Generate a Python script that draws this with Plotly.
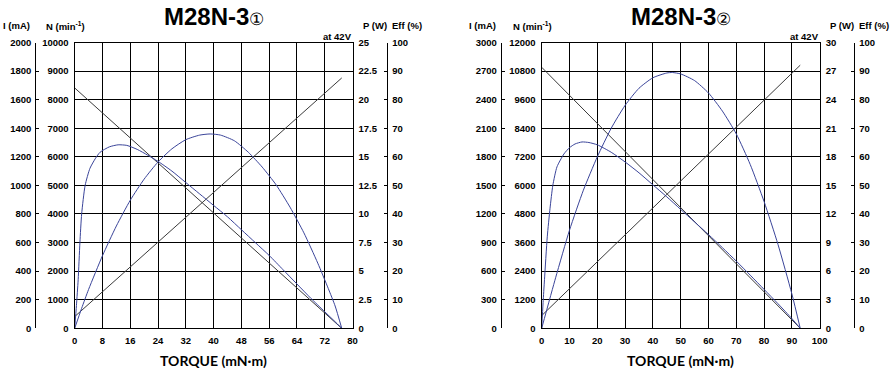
import plotly.graph_objects as go

W, H = 891, 372

# ---------------- data: chart 1 (M28N-3 ①) ----------------
L_TORQUE_LINE = [0, 76.9]
L_SPEED = [8410, 0]
L_CURRENT = [82, 1752]
L_P_TORQUE = [0, 2, 4, 8, 12, 16, 20, 24, 28, 32, 36, 39, 42, 46, 50, 54, 58, 62, 66, 70, 73, 75, 76.9]
L_POWER = [0, 1.75, 3.4, 6.35, 8.95, 11.2, 13.05, 14.55, 15.7, 16.5, 16.9, 17.0, 16.9, 16.4, 15.4, 14.1, 12.55, 10.6, 8.35, 5.7, 3.5, 1.95, 0]
L_E_TORQUE = [0, 0.5, 1, 1.5, 2, 3, 4.4, 6, 7.3, 10, 12.5, 15, 18, 21, 24, 28, 32, 36, 40, 44, 48, 52, 56, 60, 64, 68, 72, 75, 76.9]
L_EFF = [0, 8, 17, 30, 40, 50, 56, 59.5, 61.6, 63.5, 64.2, 64.0, 62.6, 60.6, 58.4, 55, 51, 47, 43, 39, 34.5, 30, 25.5, 20.5, 15.5, 10.5, 5.8, 2.3, 0]

# ---------------- data: chart 2 (M28N-3 ②) ----------------
R_TORQUE_LINE = [0, 93]
R_SPEED = [10960, 0]
R_CURRENT = [133, 2762]
R_P_TORQUE = [0, 5, 10, 15, 20, 25, 30, 35, 40, 45, 47, 50, 55, 60, 65, 70, 75, 80, 85, 90, 93]
R_POWER = [0, 5.3, 10.3, 14.5, 18.0, 21.0, 23.4, 25.2, 26.3, 26.8, 26.85, 26.7, 26.0, 24.7, 22.8, 20.4, 17.2, 13.3, 8.8, 3.6, 0]
R_E_TORQUE = [0, 0.5, 1, 2, 3, 4, 5.5, 8, 10, 12, 14.5, 17, 20, 25, 30, 35, 40, 45, 50, 55, 60, 65, 70, 75, 80, 85, 90, 93]
R_EFF = [0, 9, 17, 32, 42, 50, 56.5, 61, 63.2, 64.5, 65.2, 65, 64.2, 61.6, 58.2, 54.4, 50.2, 46, 41.6, 37.2, 32.8, 28.2, 23.5, 18.6, 13.6, 8.6, 3.4, 0]

# ---------------- tick labels ----------------
L_X_TICKS = [0, 8, 16, 24, 32, 40, 48, 56, 64, 72, 80]
L_I_TICKS = [0, 200, 400, 600, 800, 1000, 1200, 1400, 1600, 1800, 2000]
L_N_TICKS = [0, 1000, 2000, 3000, 4000, 5000, 6000, 7000, 8000, 9000, 10000]
L_P_TICKS = [0, 2.5, 5, 7.5, 10, 12.5, 15, 17.5, 20, 22.5, 25]
R_X_TICKS = [0, 10, 20, 30, 40, 50, 60, 70, 80, 90, 100]
R_I_TICKS = [0, 300, 600, 900, 1200, 1500, 1800, 2100, 2400, 2700, 3000]
R_N_TICKS = [0, 1200, 2400, 3600, 4800, 6000, 7200, 8400, 9600, 10800, 12000]
R_P_TICKS = [0, 3, 6, 9, 12, 15, 18, 21, 24, 27, 30]
EFF_TICKS = [0, 10, 20, 30, 40, 50, 60, 70, 80, 90, 100]

TITLES = ["M28N-3", "M28N-3"]
MARKS = ["①", "②"]

BLUE = "#3a4499"
DARK = "#3a3a3a"
FONT = "Liberation Sans"


def px(x):
    return x / W


def py(y):
    return 1 - y / H


fig = go.Figure()

charts = [
    dict(xd=(74.7, 352.5), iline=35.3, effline=387.3, xa="x", ya=["y", "y2", "y3", "y4"],
         xt=L_X_TICKS, it=L_I_TICKS, nt=L_N_TICKS, pt=L_P_TICKS,
         tl=L_TORQUE_LINE, sp=L_SPEED, cu=L_CURRENT, ptq=L_P_TORQUE, pw=L_POWER,
         etq=L_E_TORQUE, ef=L_EFF),
    dict(xd=(541.7, 819.7), iline=500.7, effline=854.3, xa="x2", ya=["y5", "y6", "y7", "y8"],
         xt=R_X_TICKS, it=R_I_TICKS, nt=R_N_TICKS, pt=R_P_TICKS,
         tl=R_TORQUE_LINE, sp=R_SPEED, cu=R_CURRENT, ptq=R_P_TORQUE, pw=R_POWER,
         etq=R_E_TORQUE, ef=R_EFF),
]

ydom = [py(328.3), py(42.5)]
tickfont = dict(family=FONT, size=9.5, color="black", weight="bold")
annots = []
layout = dict(width=W, height=H, margin=dict(l=0, r=0, t=0, b=0, pad=0, autoexpand=False),
              paper_bgcolor="white", plot_bgcolor="white", showlegend=False)

for k, c in enumerate(charts):
    ny, iy, py_, ey = c["ya"]
    xa = c["xa"]
    xname = "xaxis" if xa == "x" else "xaxis2"
    yn = lambda s: "yaxis" + ("" if s == "y" else s[1:])

    layout[xname] = dict(domain=[px(c["xd"][0]), px(c["xd"][1])], anchor=ny,
                         range=[c["xt"][0], c["xt"][-1]], tickmode="array", tickvals=c["xt"],
                         showgrid=True, gridcolor="black", gridwidth=1.3,
                         showline=True, linecolor="black", linewidth=1.3, mirror=True,
                         zeroline=False, ticks="", tickfont=tickfont, ticklabelstandoff=3,
                         automargin=False)
    layout[yn(ny)] = dict(domain=ydom, anchor=xa, range=[0, c["nt"][-1]],
                          tickmode="array", tickvals=c["nt"], ticktext=[str(v) for v in c["nt"]],
                          showgrid=True, gridcolor="black", gridwidth=1.3,
                          showline=True, linecolor="black", linewidth=1.3, mirror=True,
                          zeroline=False, ticks="", tickfont=tickfont, ticklabelstandoff=3,
                          automargin=False)
    layout[yn(iy)] = dict(overlaying=ny, anchor="free", position=px(c["iline"]), side="left",
                          range=[0, c["it"][-1]], tickmode="array", tickvals=c["it"],
                          ticktext=[str(v) for v in c["it"]],
                          showgrid=False, zeroline=False, showline=True, linecolor="black",
                          linewidth=1, ticks="inside", ticklen=3, tickcolor="black",
                          tickfont=tickfont, ticklabelstandoff=2, automargin=False)
    layout[yn(py_)] = dict(overlaying=ny, anchor=xa, side="right",
                           range=[0, c["pt"][-1]], tickmode="array", tickvals=c["pt"],
                           ticktext=[str(v) for v in c["pt"]],
                           showgrid=False, zeroline=False, showline=False, ticks="",
                           tickfont=tickfont, ticklabelstandoff=5, automargin=False)
    layout[yn(ey)] = dict(overlaying=ny, anchor="free", position=px(c["effline"]), side="right",
                          range=[0, 100], tickmode="array", tickvals=EFF_TICKS,
                          ticktext=[str(v) for v in EFF_TICKS],
                          showgrid=False, zeroline=False, showline=True, linecolor="black",
                          linewidth=1, ticks="inside", ticklen=3, tickcolor="black",
                          tickfont=tickfont, ticklabelstandoff=2, automargin=False)

    # traces
    fig.add_trace(go.Scatter(x=c["tl"], y=c["sp"], xaxis=xa, yaxis=ny, mode="lines",
                             line=dict(color=DARK, width=1), hoverinfo="skip"))
    fig.add_trace(go.Scatter(x=c["tl"], y=c["cu"], xaxis=xa, yaxis=iy, mode="lines",
                             line=dict(color=DARK, width=1), hoverinfo="skip"))
    fig.add_trace(go.Scatter(x=c["ptq"], y=c["pw"], xaxis=xa, yaxis=py_, mode="lines",
                             line=dict(color=BLUE, width=1, shape="spline", smoothing=0.6),
                             hoverinfo="skip"))
    fig.add_trace(go.Scatter(x=c["etq"], y=c["ef"], xaxis=xa, yaxis=ey, mode="lines",
                             line=dict(color=BLUE, width=1, shape="spline", smoothing=0.6),
                             hoverinfo="skip"))

    x0, x1 = c["xd"]
    cx = (x0 + x1) / 2
    lab = dict(family=FONT, size=9.5, color="black", weight="bold")
    annots += [
        dict(x=px(cx), y=py(17), xref="paper", yref="paper", xanchor="center", yanchor="middle",
             text="<b>" + TITLES[k] + "</b>" + '<span style="font-size:17px">' + MARKS[k] + "</span>",
             showarrow=False, font=dict(family=FONT, size=24, color="black")),
        dict(x=px(c["iline"] - 3), y=py(26), xref="paper", yref="paper", xanchor="right",
             yanchor="middle", text="I (mA)", showarrow=False, font=lab),
        dict(x=px(x0 - 31), y=py(26), xref="paper", yref="paper", xanchor="left",
             yanchor="middle", text="N (min<sup>-1</sup>)", showarrow=False, font=lab),
        dict(x=px(x1 + 8), y=py(26), xref="paper", yref="paper", xanchor="left",
             yanchor="middle", text="P (W)", showarrow=False, font=lab),
        dict(x=px(c["effline"] + 3), y=py(26), xref="paper", yref="paper", xanchor="left",
             yanchor="middle", text="Eff (%)", showarrow=False, font=lab),
        dict(x=px(x1 + 1), y=py(36), xref="paper", yref="paper", xanchor="right",
             yanchor="middle", text="at 42V", showarrow=False, font=lab),
        dict(x=px(cx), y=py(360), xref="paper", yref="paper", xanchor="center",
             yanchor="middle", text="TORQUE (mN·m)", showarrow=False,
             font=dict(family="Lato", size=14, color="black", weight="bold")),
    ]

layout["annotations"] = annots
fig.update_layout(**layout)
fig.write_html("out.html", config={"displayModeBar": False},
               post_script="document.body.style.margin='0';document.body.style.overflow='hidden';")
